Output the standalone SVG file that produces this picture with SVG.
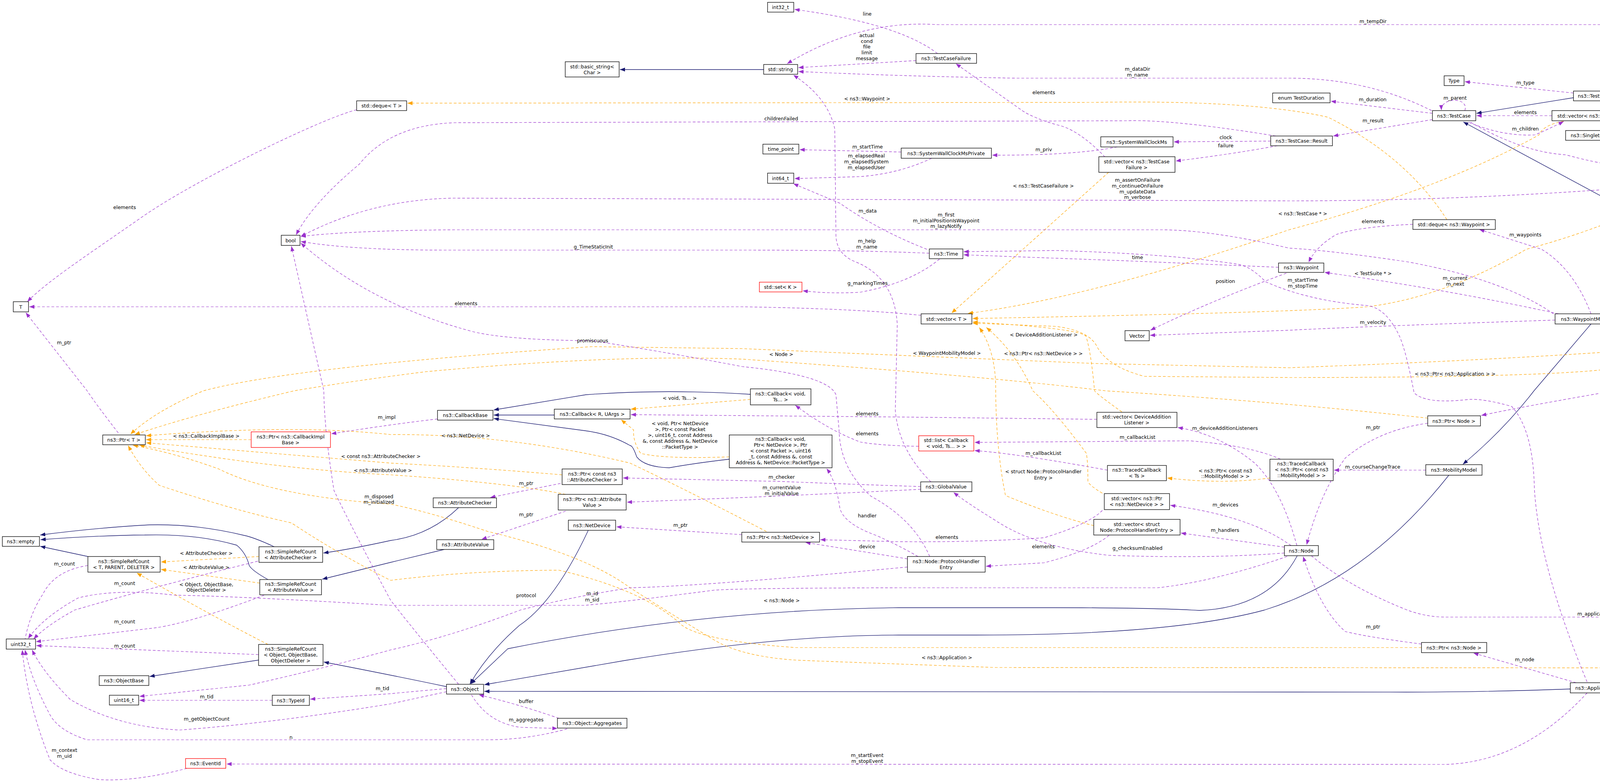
<svg xmlns="http://www.w3.org/2000/svg" width="4885" height="2001" viewBox="0 0 4885 2001">
<style>
text{font-family:"DejaVu Sans","Liberation Sans",sans-serif;font-size:12.5px;fill:#000}
.n text{text-anchor:middle}
.n rect{fill:#fff;stroke:#000;stroke-width:1.3}
.n.red rect{stroke:#f00}
.n.cur rect{fill:#bfbfbf}
.use{fill:none;stroke:#9a32cd;stroke-width:1.2;stroke-dasharray:7,5;marker-end:url(#ap)}
.tpl{fill:none;stroke:#ffa500;stroke-width:1.2;stroke-dasharray:7,5;marker-end:url(#ao)}
.inh{fill:none;stroke:#191970;stroke-width:1.3;marker-end:url(#an)}
.lbl text{text-anchor:middle}
</style>
<defs>
<marker id="ap" markerUnits="userSpaceOnUse" markerWidth="13" markerHeight="10" refX="13" refY="5" orient="auto"><path d="M0,0L13,5L0,10z" fill="#9a32cd"/></marker>
<marker id="ao" markerUnits="userSpaceOnUse" markerWidth="13" markerHeight="10" refX="13" refY="5" orient="auto"><path d="M0,0L13,5L0,10z" fill="#ffa500"/></marker>
<marker id="an" markerUnits="userSpaceOnUse" markerWidth="13" markerHeight="10" refX="13" refY="5" orient="auto"><path d="M0,0L13,5L0,10z" fill="#191970"/></marker>
</defs>
<rect width="4885" height="2001" fill="#fff"/>
<g id="connectors">
<path class="inh" d="M1955,178L1587,178"/>
<path class="inh" d="M4028,250L3780,290"/>
<path class="inh" d="M4760,857L3746,312"/>
<path class="inh" d="M4720,376L4583,351"/>
<path class="inh" d="M4073,829L3927,1000Q3850,1100 3745,1188"/>
<path class="inh" d="M3709,1216Q3500,1480 3237,1561Q3000,1625 2500,1625L2300,1625Q2000,1625 1600,1690L1240,1752"/>
<path class="inh" d="M3321,1422Q3250,1555 3071,1562Q2950,1555 2700,1555L2300,1555Q1800,1560 1300,1660L1205,1750"/>
<path class="inh" d="M4020,1763Q3800,1771 3600,1771L1240,1769"/>
<path class="inh" d="M1506,1357Q1420,1540 1330,1600Q1250,1670 1203,1750"/>
<path class="inh" d="M662,1689L383,1731"/>
<path class="inh" d="M1143,1757Q1000,1727 829,1694"/>
<path class="inh" d="M225,1424L103,1398"/>
<path class="inh" d="M702,1399Q650,1375 625,1370Q500,1340 383,1343Q250,1350 103,1369"/>
<path class="inh" d="M686,1483Q645,1460 638,1447Q630,1415 606,1395Q500,1365 370,1369Q250,1370 104,1381"/>
<path class="inh" d="M1174,1299Q1100,1370 1000,1383Q900,1405 828,1415"/>
<path class="inh" d="M1137,1406L1000,1439L825,1482"/>
<path class="inh" d="M1419,1062L1264,1062"/>
<path class="inh" d="M1921,1009Q1700,995 1500,1010L1264,1049"/>
<path class="inh" d="M1867,1175Q1780,1185 1713,1197Q1650,1195 1630,1169Q1620,1140 1613,1140Q1560,1110 1497,1102L1264,1071"/>

<path class="tpl" d="M3704,562Q3600,400 3400,300Q3200,255 2800,262L1043,264"/>
<path class="tpl" d="M2838,441C2750,520 2550,700 2436,801"/>
<path class="tpl" d="M4003,310Q3950,320 3940,345Q3700,480 3300,588Q2800,760 2478,802"/>
<path class="tpl" d="M4453,402Q4200,560 3907,638Q3700,760 3500,785Q3300,800 2490,815"/>
<path class="tpl" d="M2872,1054Q2810,1010 2802,1000Q2793,900 2780,860Q2760,840 2490,824"/>
<path class="tpl" d="M2822,1262Q2785,1240 2785,1230Q2785,1180 2781,1160Q2700,1050 2644,1000Q2600,900 2525,838"/>
<path class="tpl" d="M2800,1345Q2700,1320 2574,1268Q2550,1150 2549,1000Q2550,900 2507,838"/>
<path class="tpl" d="M4780,1558Q4700,1250 4500,1060Q4300,920 4150,940Q4000,966 3300,966L2930,963Q2840,940 2810,890Q2790,845 2700,835L2490,827"/>
<path class="tpl" d="M4381,335L4162,343"/>
<path class="tpl" d="M3251,1223Q3130,1240 2988,1223"/>
<path class="tpl" d="M1921,1022L1615,1047"/>
<path class="tpl" d="M1867,1169Q1700,1175 1640,1160Q1620,1130 1622,1100L1590,1074"/>
<path class="tpl" d="M643,1125L374,1125"/>
<path class="tpl" d="M1439,1215Q1200,1195 1000,1185L374,1133"/>
<path class="tpl" d="M1448,1265Q1300,1235 1000,1215Q700,1200 357,1139"/>
<path class="tpl" d="M1962,1360Q1750,1250 1613,1185Q1300,1110 1000,1112Q750,1085 374,1115"/>
<path class="tpl" d="M4382,880Q4000,915 3300,941L2800,930Q2200,905 1900,892L1515,887Q751,938 521,1000Q400,1050 334,1111"/>
<path class="tpl" d="M3655,1070Q3300,1030 2830,1000Q2500,960 1900,919Q1576,906 1091,951Q900,975 753,1000Q500,1060 345,1112"/>
<path class="tpl" d="M3639,1657L2036,1657Q1800,1640 1746,1600Q1650,1510 1431,1459Q1200,1460 1000,1485Q870,1420 746,1338Q600,1306 408,1242Q360,1200 328,1140"/>
<path class="tpl" d="M4378,1709L2549,1708Q2100,1692 2036,1689Q1900,1680 1829,1638Q1700,1560 1613,1504Q1500,1420 1249,1360Q1100,1310 1000,1290Q700,1270 560,1200Q450,1160 340,1139"/>
<path class="tpl" d="M663,1424L412,1438"/>
<path class="tpl" d="M665,1492L412,1457"/>
<path class="tpl" d="M686,1649Q550,1580 350,1466"/>

<path class="use" d="M2400,137Q2300,60 2034,24"/>
<path class="use" d="M2345,155L2044,173"/>
<path class="use" d="M3665,283Q3500,200 3300,200L2600,200Q2300,195 2044,183"/>
<path class="use" d="M4782,376Q4700,100 4460,63L2400,63Q2200,50 2015,163"/>
<path class="use" d="M3667,290L3407,259"/>
<path class="use" d="M3750,283C3762,248 3688,248 3690,282"/>
<path class="use" d="M3667,306L3413,348"/>
<path class="use" d="M3266,348Q3000,305 2882,309L1163,314Q1000,320 920,420Q800,520 758,601"/>
<path class="use" d="M3253,361L3005,363"/>
<path class="use" d="M3270,373Q3150,395 3010,412"/>
<path class="use" d="M2829,402Q2760,330 2704,319Q2640,300 2614,281L2447,163"/>
<path class="use" d="M2860,376Q2750,398 2540,397"/>
<path class="use" d="M2307,389L2047,383"/>
<path class="use" d="M2385,405Q2300,445 2200,452L2034,457"/>
<path class="use" d="M2373,638Q2250,590 2150,520L2031,470"/>
<path class="use" d="M2405,663Q2330,725 2200,748Q2120,752 2055,744"/>
<path class="use" d="M2379,648Q2200,640 1900,640L1140,640Q900,640 770,618"/>
<path class="use" d="M2383,1233Q2300,1150 2292,1050L2297,830Q2290,710 2190,670Q2140,650 2140,600L2137,330Q2120,250 2031,192"/>
<path class="use" d="M4028,238L3750,209"/>
<path class="use" d="M3973,296L3780,296"/>
<path class="use" d="M3760,313Q3850,350 3930,345Q3965,330 4003,311"/>
<path class="use" d="M4386,402Q4240,400 4220,330Q4210,270 4141,246"/>
<path class="use" d="M4712,389L4578,389"/>
<path class="use" d="M3765,313Q3900,390 4008,396Q4150,435 4260,431Q4500,420 4711,401"/>
<path class="use" d="M4736,403Q4600,435 4109,485Q3700,514 3300,514L1163,507Q950,510 770,605"/>
<path class="use" d="M3977,803Q3850,715 3603,670Q3400,640 3300,635Q3100,588 2971,588L1163,588Q900,590 770,605"/>
<path class="use" d="M4073,803Q4030,690 3947,638L3787,587"/>
<path class="use" d="M3617,574Q3480,580 3421,600Q3370,630 3350,671"/>
<path class="use" d="M3990,803Q3700,740 3391,697"/>
<path class="use" d="M3273,684L2900,668L2467,652"/>
<path class="use" d="M3293,699Q3100,770 2945,845"/>
<path class="use" d="M3981,819Q3500,835 3300,845L2944,858"/>
<path class="use" d="M4063,1745Q3940,1450 3928,1250Q3925,1100 3870,1040Q3800,1020 3760,1022Q3650,1035 3620,1005Q3600,900 3583,861Q3550,790 3502,782Q3350,770 3240,721Q3200,680 3168,676Q3000,650 2704,641L2467,644"/>
<path class="use" d="M4063,1773Q3900,1950 3700,1956L580,1955"/>
<path class="use" d="M4035,1747L3772,1671"/>
<path class="use" d="M4440,1722Q4300,1760 4149,1760"/>
<path class="use" d="M4740,1599L4516,1697"/>
<path class="use" d="M3357,1422Q3450,1500 3600,1560Q3650,1579 3700,1579L4702,1579"/>
<path class="use" d="M3639,1648Q3500,1630 3444,1616Q3380,1560 3336,1424"/>
<path class="use" d="M3655,1083Q3530,1100 3444,1172Q3380,1260 3345,1394"/>
<path class="use" d="M4699,870L4583,870"/>
<path class="use" d="M4382,855Q4300,838 4189,829"/>
<path class="use" d="M4715,883Q4300,990 4133,1000Q3900,1040 3792,1063"/>
<path class="use" d="M3650,1203L3415,1203"/>
<path class="use" d="M3278,1175Q3200,1140 3046,1128L2495,1132"/>
<path class="use" d="M2835,1203Q2600,1160 2495,1153"/>
<path class="use" d="M2352,1142Q2250,1140 2202,1131Q2120,1100 2036,1037"/>
<path class="use" d="M3320,1396Q3280,1250 3212,1185Q3120,1110 3015,1094"/>
<path class="use" d="M2808,1073L2300,1067L1615,1061"/>
<path class="use" d="M3305,1396Q3200,1320 2996,1293"/>
<path class="use" d="M2822,1306Q2790,1340 2673,1376Q2500,1388 2300,1386L2100,1381"/>
<path class="use" d="M3288,1400L3023,1364"/>
<path class="use" d="M2839,1370Q2790,1410 2673,1440L2524,1449"/>
<path class="use" d="M2323,1430Q2200,1410 2062,1388"/>
<path class="use" d="M2350,1424Q2300,1395 2243,1370Q2160,1340 2150,1300Q2140,1230 2116,1199"/>
<path class="use" d="M2323,1451L2300,1453Q1800,1500 1613,1504Q1450,1530 1332,1561Q1150,1630 1000,1663Q830,1710 638,1753L357,1782"/>
<path class="use" d="M3288,1415Q3100,1430 2839,1421Q2650,1400 2549,1332Q2480,1290 2441,1260"/>
<path class="use" d="M3295,1424Q3100,1490 2963,1504L2300,1504Q1900,1505 1829,1510Q1600,1540 1497,1549L1000,1549Q600,1525 447,1523Q300,1505 200,1530Q110,1580 72,1634"/>
<path class="use" d="M2357,1245Q2200,1240 2000,1232L1595,1223"/>
<path class="use" d="M2357,1252Q2000,1270 1605,1285"/>
<path class="use" d="M1435,1237L1255,1273"/>
<path class="use" d="M1448,1308L1233,1380"/>
<path class="use" d="M1899,1368L1578,1348"/>
<path class="use" d="M1120,1072Q1000,1086 848,1110"/>
<path class="use" d="M303,1108Q250,1040 223,1000L66,800"/>
<path class="use" d="M2358,807Q2200,790 1900,785L75,785"/>
<path class="use" d="M913,281C830,300 500,460 364,555S120,720 70,772"/>
<path class="use" d="M2380,1424Q2340,1330 2230,1270Q2150,1200 2148,1100L2140,1010Q2120,960 1900,938Q1700,900 1517,872Q1300,870 1212,849Q950,780 770,622"/>
<path class="use" d="M1174,1751Q1050,1600 1000,1536Q900,1350 855,1255Q830,1100 829,1000L746,630"/>
<path class="use" d="M1143,1762Q1050,1770 1000,1775L794,1789"/>
<path class="use" d="M1143,1770Q1050,1790 1000,1801Q700,1850 460,1868Q300,1860 180,1790Q110,1720 82,1663"/>
<path class="use" d="M697,1792L357,1792"/>
<path class="use" d="M1207,1778Q1250,1850 1332,1861L1427,1864"/>
<path class="use" d="M1431,1838Q1320,1800 1226,1778"/>
<path class="use" d="M1452,1865Q1350,1893 1249,1893L223,1893Q150,1870 128,1829Q80,1740 64,1663"/>
<path class="use" d="M479,1966Q350,2000 255,1995Q160,1980 128,1944Q70,1800 57,1663"/>
<path class="use" d="M225,1447Q140,1460 110,1520Q70,1580 60,1663"/>
<path class="use" d="M660,1436Q400,1500 191,1561Q120,1600 86,1635"/>
<path class="use" d="M676,1523Q500,1590 402,1606L92,1642"/>
<path class="use" d="M662,1675L93,1652"/>
</g>
<g class="lbl">
<text x="2220" y="40">line</text>
<text x="2219" y="95">actual</text><text x="2219" y="110">cond</text><text x="2219" y="124">file</text><text x="2219" y="139">limit</text><text x="2219" y="154">message</text>
<text x="2912" y="181">m_dataDir</text><text x="2912" y="196">m_name</text>
<text x="2672" y="241">elements</text>
<text x="2220" y="257">&lt; ns3::Waypoint &gt;</text>
<text x="2000" y="308">childrenFailed</text>
<text x="3138" y="356">clock</text><text x="3138" y="377">failure</text>
<text x="2221" y="380">m_startTime</text>
<text x="2672" y="387">m_priv</text>
<text x="2218" y="403">m_elapsedReal</text><text x="2218" y="418">m_elapsedSystem</text><text x="2218" y="433">m_elapsedUser</text>
<text x="2671" y="480">&lt; ns3::TestCaseFailure &gt;</text>
<text x="2912" y="465">m_assertOnFailure</text><text x="2912" y="480">m_continueOnFailure</text><text x="2912" y="495">m_updateData</text><text x="2912" y="509">m_verbose</text>
<text x="2221" y="544">m_data</text>
<text x="2422" y="554">m_first</text><text x="2422" y="569">m_initialPositionIsWaypoint</text><text x="2422" y="583">m_lazyNotify</text>
<text x="2219" y="621">m_help</text><text x="2219" y="636">m_name</text>
<text x="2912" y="663">time</text>
<text x="3137" y="724">position</text>
<text x="2221" y="729">g_markingTimes</text>
<text x="2672" y="861">&lt; DeviceAdditionListener &gt;</text>
<text x="2424" y="908">&lt; WaypointMobilityModel &gt;</text>
<text x="2000" y="911">&lt; Node &gt;</text>
<text x="2671" y="909">&lt; ns3::Ptr&lt; ns3::NetDevice &gt; &gt;</text>
<text x="3335" y="551">&lt; ns3::TestCase * &gt;</text>
<text x="3515" y="59">m_tempDir</text>
<text x="3905" y="216">m_type</text>
<text x="3725" y="255">m_parent</text>
<text x="3514" y="259">m_duration</text>
<text x="3905" y="292">elements</text>
<text x="3515" y="313">m_result</text>
<text x="4288" y="330">&lt; TestRunnerImpl &gt;</text>
<text x="3905" y="334">m_children</text>
<text x="4288" y="356">elements</text>
<text x="4643" y="385">m_suites</text>
<text x="4288" y="423">m_runner</text>
<text x="3515" y="571">elements</text>
<text x="3905" y="605">m_waypoints</text>
<text x="3515" y="704">&lt; TestSuite * &gt;</text>
<text x="3725" y="716">m_current</text><text x="3725" y="731">m_next</text>
<text x="3335" y="721">m_startTime</text><text x="3335" y="736">m_stopTime</text>
<text x="3515" y="829">m_velocity</text>
<text x="4289" y="831">m_ptr</text>
<text x="4644" y="865">m_mob</text>
<text x="4288" y="949">m_node</text>
<text x="3725" y="961">&lt; ns3::Ptr&lt; ns3::Application &gt; &gt;</text>
<text x="319" y="535">elements</text>
<text x="1519" y="636">g_TimeStaticInit</text>
<text x="1193" y="781">elements</text>
<text x="1517" y="876">promiscuous</text>
<text x="164" y="881">m_ptr</text>
<text x="990" y="1072">m_impl</text>
<text x="528" y="1120">&lt; ns3::CallbackImplBase &gt;</text>
<text x="975" y="1172">&lt; const ns3::AttributeChecker &gt;</text>
<text x="980" y="1208">&lt; ns3::AttributeValue &gt;</text>
<text x="970" y="1275">m_disposed</text><text x="970" y="1289">m_initialized</text>
<text x="528" y="1420">&lt; AttributeChecker &gt;</text>
<text x="165" y="1447">m_count</text>
<text x="528" y="1456">&lt; AttributeValue &gt;</text>
<text x="319" y="1497">m_count</text>
<text x="528" y="1500">&lt; Object, ObjectBase,</text><text x="528" y="1514">ObjectDeleter &gt;</text>
<text x="319" y="1595">m_count</text>
<text x="319" y="1657">m_count</text>
<text x="979" y="1766">m_tid</text>
<text x="529" y="1787">m_tid</text>
<text x="529" y="1844">m_getObjectCount</text>
<text x="745" y="1891">n</text>
<text x="165" y="1924">m_context</text><text x="165" y="1939">m_uid</text>
<text x="1740" y="1023">&lt; void, Ts... &gt;</text>
<text x="2220" y="1063">elements</text>
<text x="2220" y="1114">elements</text>
<text x="1192" y="1119">&lt; ns3::NetDevice &gt;</text>
<text x="1741" y="1088">&lt; void, Ptr&lt; NetDevice</text><text x="1741" y="1103">&gt;, Ptr&lt; const Packet</text><text x="1741" y="1118">&gt;, uint16_t, const Address</text><text x="1741" y="1133">&amp;, const Address &amp;, NetDevice</text><text x="1741" y="1148">::PacketType &gt;</text>
<text x="2001" y="1225">m_checker</text>
<text x="1347" y="1241">m_ptr</text>
<text x="2001" y="1252">m_currentValue</text><text x="2001" y="1267">m_initialValue</text>
<text x="1347" y="1321">m_ptr</text>
<text x="2220" y="1324">handler</text>
<text x="1742" y="1348">m_ptr</text>
<text x="2220" y="1403">device</text>
<text x="1516" y="1523">m_id</text><text x="1516" y="1539">m_sid</text>
<text x="1347" y="1528">protocol</text>
<text x="2001" y="1541">&lt; ns3::Node &gt;</text>
<text x="1347" y="1799">buffer</text>
<text x="1347" y="1846">m_aggregates</text>
<text x="2220" y="1937">m_startEvent</text><text x="2220" y="1952">m_stopEvent</text>
<text x="3136" y="1100">m_deviceAdditionListeners</text>
<text x="3515" y="1098">m_ptr</text>
<text x="2912" y="1123">m_callbackList</text>
<text x="2671" y="1164">m_callbackList</text>
<text x="3514" y="1199">m_courseChangeTrace</text>
<text x="2671" y="1211">&lt; struct Node::ProtocolHandler</text><text x="2671" y="1227">Entry &gt;</text>
<text x="3137" y="1209">&lt; ns3::Ptr&lt; const ns3</text><text x="3137" y="1223">::MobilityModel &gt; &gt;</text>
<text x="3137" y="1296">m_devices</text>
<text x="3136" y="1361">m_handlers</text>
<text x="2424" y="1379">elements</text>
<text x="2671" y="1403">elements</text>
<text x="2912" y="1407">g_checksumEnabled</text>
<text x="3515" y="1608">m_ptr</text>
<text x="2424" y="1687">&lt; ns3::Application &gt;</text>
<text x="4085" y="1575">m_applications</text>
<text x="4643" y="1623">elements</text>
<text x="3903" y="1692">m_node</text>
<text x="4288" y="1739">m_ptr</text>
</g>
<g id="n_basicstring" class="n"><rect x="1447" y="158" width="138" height="39"/><text x="1516" y="175">std::basic_string&lt;</text><text x="1516" y="190">Char &gt;</text></g>
<g id="n_dequeT" class="n"><rect x="913" y="258" width="128" height="25"/><text x="977" y="275">std::deque&lt; T &gt;</text></g>
<g id="n_bool" class="n"><rect x="720" y="602" width="48" height="26"/><text x="744" y="620">bool</text></g>
<g id="n_T" class="n"><rect x="34" y="772" width="39" height="26"/><text x="53" y="790">T</text></g>
<g id="n_ptrT" class="n"><rect x="263" y="1113" width="109" height="25"/><text x="317" y="1130">ns3::Ptr&lt; T &gt;</text></g>
<g id="n_ptrCIB" class="n red"><rect x="643" y="1105" width="203" height="40"/><text x="744" y="1122">ns3::Ptr&lt; ns3::CallbackImpl</text><text x="744" y="1137">Base &gt;</text></g>
<g id="n_empty" class="n"><rect x="6" y="1373" width="95" height="25"/><text x="53" y="1390">ns3::empty</text></g>
<g id="n_srcT" class="n"><rect x="225" y="1424" width="185" height="40"/><text x="317" y="1441">ns3::SimpleRefCount</text><text x="317" y="1456">&lt; T, PARENT, DELETER &gt;</text></g>
<g id="n_srcAC" class="n"><rect x="663" y="1399" width="163" height="40"/><text x="744" y="1416">ns3::SimpleRefCount</text><text x="744" y="1431">&lt; AttributeChecker &gt;</text></g>
<g id="n_srcAV" class="n"><rect x="665" y="1483" width="158" height="39"/><text x="744" y="1499">ns3::SimpleRefCount</text><text x="744" y="1514">&lt; AttributeValue &gt;</text></g>
<g id="n_uint32" class="n"><rect x="16" y="1635" width="75" height="26"/><text x="53" y="1653">uint32_t</text></g>
<g id="n_srcObj" class="n"><rect x="662" y="1649" width="165" height="54"/><text x="744" y="1665">ns3::SimpleRefCount</text><text x="744" y="1680">&lt; Object, ObjectBase,</text><text x="744" y="1695">ObjectDeleter &gt;</text></g>
<g id="n_objbase" class="n"><rect x="254" y="1729" width="127" height="25"/><text x="317" y="1746">ns3::ObjectBase</text></g>
<g id="n_uint16" class="n"><rect x="280" y="1779" width="75" height="25"/><text x="317" y="1796">uint16_t</text></g>
<g id="n_typeid" class="n"><rect x="697" y="1779" width="95" height="26"/><text x="744" y="1797">ns3::TypeId</text></g>
<g id="n_eventid" class="n red"><rect x="475" y="1941" width="103" height="25"/><text x="526" y="1958">ns3::EventId</text></g>
<g id="n_cbbase" class="n"><rect x="1120" y="1050" width="142" height="25"/><text x="1191" y="1067">ns3::CallbackBase</text></g>
<g id="n_cbR" class="n"><rect x="1419" y="1047" width="194" height="25"/><text x="1516" y="1064">ns3::Callback&lt; R, UArgs &gt;</text></g>
<g id="n_cbVoidTs" class="n"><rect x="1921" y="995" width="155" height="41"/><text x="1998" y="1012">ns3::Callback&lt; void,</text><text x="1998" y="1027">Ts... &gt;</text></g>
<g id="n_cbVoidND" class="n"><rect x="1867" y="1113" width="263" height="84"/><text x="1998" y="1128">ns3::Callback&lt; void,</text><text x="1998" y="1143">Ptr&lt; NetDevice &gt;, Ptr</text><text x="1998" y="1158">&lt; const Packet &gt;, uint16</text><text x="1998" y="1173">_t, const Address &amp;, const</text><text x="1998" y="1188">Address &amp;, NetDevice::PacketType &gt;</text></g>
<g id="n_ptrCAC" class="n"><rect x="1439" y="1200" width="154" height="40"/><text x="1516" y="1217">ns3::Ptr&lt; const ns3</text><text x="1516" y="1232">::AttributeChecker &gt;</text></g>
<g id="n_ac" class="n"><rect x="1109" y="1274" width="162" height="25"/><text x="1190" y="1291">ns3::AttributeChecker</text></g>
<g id="n_ptrAV" class="n"><rect x="1429" y="1265" width="174" height="40"/><text x="1516" y="1282">ns3::Ptr&lt; ns3::Attribute</text><text x="1516" y="1297">Value &gt;</text></g>
<g id="n_nd" class="n"><rect x="1455" y="1331" width="121" height="26"/><text x="1515" y="1349">ns3::NetDevice</text></g>
<g id="n_av" class="n"><rect x="1118" y="1381" width="146" height="25"/><text x="1191" y="1398">ns3::AttributeValue</text></g>
<g id="n_ptrND" class="n"><rect x="1899" y="1362" width="199" height="25"/><text x="1998" y="1379">ns3::Ptr&lt; ns3::NetDevice &gt;</text></g>
<g id="n_object" class="n"><rect x="1143" y="1751" width="95" height="25"/><text x="1190" y="1768">ns3::Object</text></g>
<g id="n_aggr" class="n"><rect x="1427" y="1838" width="178" height="25"/><text x="1516" y="1855">ns3::Object::Aggregates</text></g>
<g id="n_int32" class="n"><rect x="1965" y="6" width="67" height="25"/><text x="1998" y="23">int32_t</text></g>
<g id="n_tcf" class="n"><rect x="2345" y="137" width="155" height="25"/><text x="2422" y="154">ns3::TestCaseFailure</text></g>
<g id="n_string" class="n"><rect x="1955" y="165" width="87" height="25"/><text x="1998" y="182">std::string</text></g>
<g id="n_enum" class="n"><rect x="3258" y="238" width="147" height="25"/><text x="3331" y="255">enum TestDuration</text></g>
<g id="n_swcms" class="n"><rect x="2818" y="350" width="185" height="26"/><text x="2910" y="368">ns3::SystemWallClockMs</text></g>
<g id="n_result" class="n"><rect x="3253" y="348" width="158" height="25"/><text x="3332" y="365">ns3::TestCase::Result</text></g>
<g id="n_timepoint" class="n"><rect x="1953" y="369" width="92" height="25"/><text x="1999" y="386">time_point</text></g>
<g id="n_swcmp" class="n"><rect x="2307" y="379" width="231" height="26"/><text x="2422" y="397">ns3::SystemWallClockMsPrivate</text></g>
<g id="n_vecTCF" class="n"><rect x="2813" y="401" width="195" height="40"/><text x="2910" y="418">std::vector&lt; ns3::TestCase</text><text x="2910" y="433">Failure &gt;</text></g>
<g id="n_int64" class="n"><rect x="1965" y="443" width="67" height="26"/><text x="1998" y="461">int64_t</text></g>
<g id="n_time" class="n"><rect x="2379" y="637" width="86" height="25"/><text x="2422" y="654">ns3::Time</text></g>
<g id="n_setK" class="n red"><rect x="1944" y="722" width="109" height="25"/><text x="1998" y="739">std::set&lt; K &gt;</text></g>
<g id="n_vecT" class="n"><rect x="2358" y="803" width="130" height="26"/><text x="2423" y="821">std::vector&lt; T &gt;</text></g>
<g id="n_vector" class="n"><rect x="2880" y="846" width="62" height="26"/><text x="2911" y="864">Vector</text></g>
<g id="n_waypoint" class="n"><rect x="3273" y="673" width="116" height="24"/><text x="3331" y="689">ns3::Waypoint</text></g>
<g id="n_type" class="n"><rect x="3697" y="194" width="51" height="25"/><text x="3722" y="211">Type</text></g>
<g id="n_testsuite" class="n"><rect x="4028" y="233" width="111" height="25"/><text x="4083" y="250">ns3::TestSuite</text></g>
<g id="n_testcase" class="n"><rect x="3667" y="283" width="111" height="26"/><text x="3722" y="301">ns3::TestCase</text></g>
<g id="n_vecTC" class="n"><rect x="3973" y="283" width="221" height="26"/><text x="4083" y="301">std::vector&lt; ns3::TestCase * &gt;</text></g>
<g id="n_singT" class="n"><rect x="4008" y="334" width="152" height="25"/><text x="4084" y="351">ns3::Singleton&lt; T &gt;</text></g>
<g id="n_singTRI" class="n"><rect x="4381" y="311" width="200" height="40"/><text x="4481" y="328">ns3::Singleton&lt; TestRunner</text><text x="4481" y="343">Impl &gt;</text></g>
<g id="n_vecTS" class="n"><rect x="4386" y="376" width="190" height="26"/><text x="4481" y="394">std::vector&lt; TestSuite * &gt;</text></g>
<g id="n_tri" class="n"><rect x="4712" y="376" width="154" height="26"/><text x="4789" y="394">ns3::TestRunnerImpl</text></g>
<g id="n_dequeWP" class="n"><rect x="3617" y="562" width="211" height="25"/><text x="3722" y="579">std::deque&lt; ns3::Waypoint &gt;</text></g>
<g id="n_wmm" class="n"><rect x="3981" y="803" width="206" height="26"/><text x="4084" y="821">ns3::WaypointMobilityModel</text></g>
<g id="n_ptrWMM" class="n"><rect x="4382" y="850" width="199" height="39"/><text x="4481" y="866">ns3::Ptr&lt; WaypointMobility</text><text x="4481" y="881">Model &gt;</text></g>
<g id="n_wlnt" class="n cur"><rect x="4699" y="857" width="180" height="25"/><text x="4789" y="874">WaypointLazyNotifyTrue</text></g>
<g id="n_vecDAL" class="n"><rect x="2808" y="1055" width="205" height="39"/><text x="2910" y="1071">std::vector&lt; DeviceAddition</text><text x="2910" y="1086">Listener &gt;</text></g>
<g id="n_listCB" class="n red"><rect x="2352" y="1115" width="141" height="39"/><text x="2422" y="1131">std::list&lt; Callback</text><text x="2422" y="1146">&lt; void, Ts... &gt; &gt;</text></g>
<g id="n_tcTs" class="n"><rect x="2835" y="1191" width="151" height="39"/><text x="2910" y="1207">ns3::TracedCallback</text><text x="2910" y="1222">&lt; Ts &gt;</text></g>
<g id="n_tcMM" class="n"><rect x="3251" y="1175" width="162" height="55"/><text x="3332" y="1191">ns3::TracedCallback</text><text x="3332" y="1206">&lt; ns3::Ptr&lt; const ns3</text><text x="3332" y="1221">::MobilityModel &gt; &gt;</text></g>
<g id="n_gv" class="n"><rect x="2357" y="1233" width="131" height="25"/><text x="2422" y="1250">ns3::GlobalValue</text></g>
<g id="n_vecPND" class="n"><rect x="2827" y="1263" width="167" height="41"/><text x="2910" y="1280">std::vector&lt; ns3::Ptr</text><text x="2910" y="1295">&lt; ns3::NetDevice &gt; &gt;</text></g>
<g id="n_vecPHE" class="n"><rect x="2800" y="1329" width="221" height="40"/><text x="2910" y="1346">std::vector&lt; struct</text><text x="2910" y="1361">Node::ProtocolHandlerEntry &gt;</text></g>
<g id="n_node" class="n"><rect x="3288" y="1396" width="87" height="26"/><text x="3331" y="1414">ns3::Node</text></g>
<g id="n_phe" class="n"><rect x="2323" y="1424" width="199" height="40"/><text x="2422" y="1441">ns3::Node::ProtocolHandler</text><text x="2422" y="1456">Entry</text></g>
<g id="n_ptrNode" class="n"><rect x="3655" y="1064" width="135" height="26"/><text x="3722" y="1082">ns3::Ptr&lt; Node &gt;</text></g>
<g id="n_mm" class="n"><rect x="3650" y="1189" width="144" height="27"/><text x="3722" y="1207">ns3::MobilityModel</text></g>
<g id="n_vecPApp" class="n"><rect x="4704" y="1559" width="171" height="40"/><text x="4789" y="1576">std::vector&lt; ns3::Ptr</text><text x="4789" y="1591">&lt; ns3::Application &gt; &gt;</text></g>
<g id="n_ptrNsNode" class="n"><rect x="3639" y="1644" width="167" height="26"/><text x="3722" y="1662">ns3::Ptr&lt; ns3::Node &gt;</text></g>
<g id="n_ptrApp" class="n"><rect x="4378" y="1697" width="205" height="25"/><text x="4480" y="1714">ns3::Ptr&lt; ns3::Application &gt;</text></g>
<g id="n_app" class="n"><rect x="4020" y="1747" width="127" height="26"/><text x="4083" y="1765">ns3::Application</text></g>
</svg>
